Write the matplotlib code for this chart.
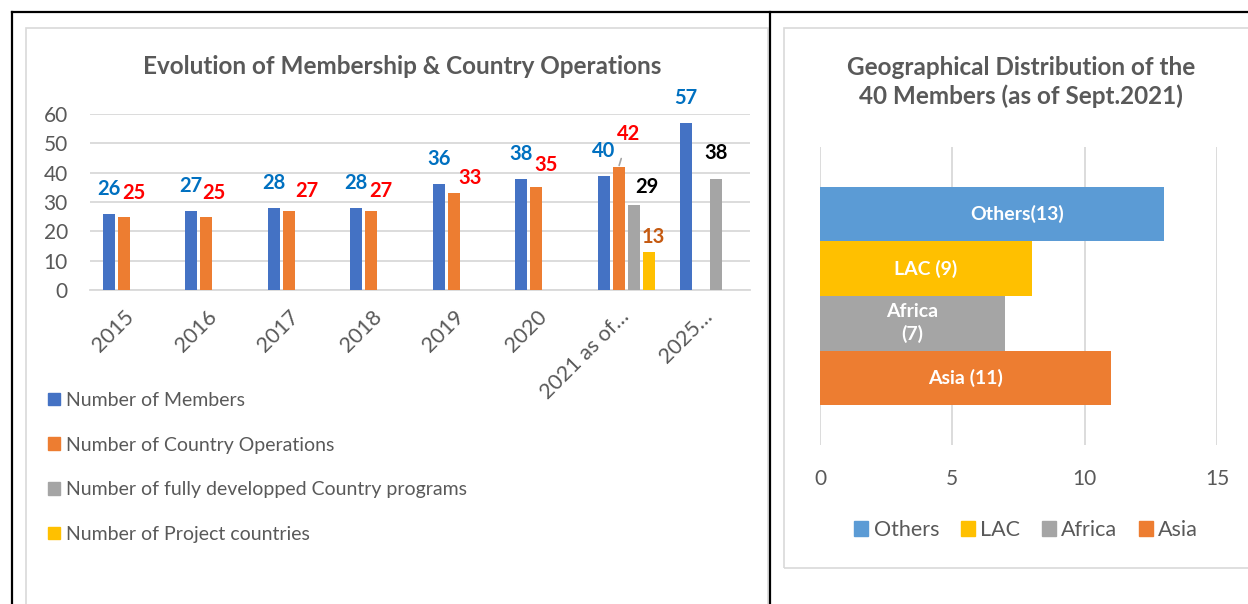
import numpy as np
import matplotlib
matplotlib.use("Agg")
import matplotlib.pyplot as plt
from matplotlib.patches import Patch, Rectangle
from matplotlib.lines import Line2D

plt.rcParams['font.family'] = ['Lato', 'DejaVu Sans']

# ---- data: left chart ----
years = ["2015", "2016", "2017", "2018", "2019", "2020", "2021 as of\u2026", "2025\u2026"]
members = [26, 27, 28, 28, 36, 38, 39, 57]
members_txt = ["26", "27", "28", "28", "36", "38", "40", "57"]
operations = [25, 25, 27, 27, 33, 35, 42, np.nan]
programs = [np.nan, np.nan, np.nan, np.nan, np.nan, np.nan, 29, 38]
projects = [np.nan, np.nan, np.nan, np.nan, np.nan, np.nan, 13, np.nan]
series_names = ["Number of Members", "Number of Country Operations",
                "Number of fully developped Country programs", "Number of Project countries"]

# ---- data: right chart ----
regions = ["Asia", "Africa", "LAC", "Others"]
region_vals = [11, 7, 8, 13]
region_txt = ["Asia (11)", "Africa\n(7)", "LAC (9)", "Others(13)"]

W, H = 1248, 604
GRAY_TXT = "#595959"
GRID = "#D9D9D9"
C_BLUE, C_ORANGE, C_GRAY, C_YELLOW = "#4472C4", "#ED7D31", "#A5A5A5", "#FFC000"


def fx(px):
    return px / W


def fy(py):
    return 1 - py / H


fig = plt.figure(figsize=(W / 100, H / 100), dpi=100)

# table borders and chart frames
for x0, y0, x1, y1 in [(12, 12, 1248, 12), (12, 12, 12, 604), (770, 12, 770, 604)]:
    fig.add_artist(Line2D([fx(x0), fx(x1)], [fy(y0), fy(y1)], color="black", lw=1.6))
fig.add_artist(Rectangle((fx(26), fy(610)), fx(742), 582 / H, fill=False, ec=GRID, lw=1.2))
fig.add_artist(Rectangle((fx(784), fy(568)), fx(470), 540 / H, fill=False, ec=GRID, lw=1.2))

# ---------------- left chart ----------------
ax1 = fig.add_axes([fx(90), fy(290), fx(660), 176 / H])
x = np.arange(len(years))
slot, bw = 0.182, 0.148
cols = [C_BLUE, C_ORANGE, C_GRAY, C_YELLOW]
series = [members, operations, programs, projects]
for k, (vals, c) in enumerate(zip(series, cols)):
    ax1.bar(x + (k - 1.5) * slot, vals, bw, color=c, zorder=3)

ax1.set_xlim(-0.5, 7.5)
ax1.set_ylim(0, 60)
ax1.set_yticks(range(0, 61, 10))
ax1.yaxis.grid(True, color=GRID, lw=1.3)
ax1.set_axisbelow(True)
for s in ["top", "right", "left"]:
    ax1.spines[s].set_visible(False)
ax1.spines["bottom"].set_color(GRID)
ax1.spines["bottom"].set_linewidth(1.3)
ax1.tick_params(axis="both", length=0, labelsize=15, labelcolor=GRAY_TXT)
ax1.tick_params(axis="x", labelsize=15.5)
ax1.tick_params(axis="y", pad=16)
ax1.tick_params(axis="x", pad=17)
ax1.set_xticks(x)
ax1.set_xticklabels(years, rotation=45, ha="right", va="center", rotation_mode="anchor")

lab_kw = dict(textcoords="offset pixels", ha="center", va="center",
              fontsize=14.5, fontweight="bold", annotation_clip=False)
# member labels
for i, v in enumerate(members):
    ax1.annotate(members_txt[i], (x[i] - 1.5 * slot, v), xytext=(0, 25),
                 color="#0070C0", **lab_kw)
op_off = [(10, 24), (8, 24), (18, 20), (10, 20), (16, 15), (10, 22), (10, 33)]
for i, v in enumerate(operations):
    if np.isnan(v):
        continue
    extra = {}
    if i == 6:
        extra = dict(arrowprops=dict(arrowstyle="-", color=C_GRAY, lw=1.2,
                                     shrinkA=9, shrinkB=1))
    ax1.annotate(f"{v:.0f}", (x[i] - 0.5 * slot, v), xytext=op_off[i],
                 color="#FF0000", **lab_kw, **extra)
prog_off = {6: (13, 18), 7: (0, 26)}
for i, v in enumerate(programs):
    if not np.isnan(v):
        ax1.annotate(f"{v:.0f}", (x[i] + 0.5 * slot, v), xytext=prog_off[i],
                     color="black", **lab_kw)
for i, v in enumerate(projects):
    if not np.isnan(v):
        ax1.annotate(f"{v:.0f}", (x[i] + 1.5 * slot, v), xytext=(5, 15),
                     color="#C55A11", **lab_kw)

fig.text(fx(402), fy(66), "Evolution of Membership & Country Operations",
         ha="center", va="center", fontsize=17.5, fontweight="bold", color=GRAY_TXT)

h1 = [Patch(color=c) for c in cols]
fig.legend(h1, series_names, loc="upper left", bbox_to_anchor=(fx(48), fy(392)),
           frameon=False, fontsize=14, labelcolor=GRAY_TXT, borderpad=0,
           borderaxespad=0, labelspacing=1.42, handlelength=0.62, handleheight=0.62,
           handletextpad=0.3)

# ---------------- right chart ----------------
ax2 = fig.add_axes([fx(820), fy(445), fx(397), 298 / H])
rcols = [C_ORANGE, C_GRAY, C_YELLOW, "#5B9BD5"]
yy = np.arange(len(regions))
ax2.barh(yy, region_vals, 1.0, color=rcols, zorder=3)
gap = 1.46
ax2.set_ylim(-0.5 - gap / 2, 3.5 + gap / 2)
ax2.set_xlim(0, 15)
ax2.set_xticks([0, 5, 10, 15])
ax2.set_yticks([])
ax2.xaxis.grid(True, color=GRID, lw=1.3)
ax2.set_axisbelow(True)
for s in ax2.spines.values():
    s.set_visible(False)
ax2.tick_params(axis="x", length=0, labelsize=15, labelcolor=GRAY_TXT, pad=17)
r_off = [0, 0, 0, 25]
for i, v in enumerate(region_vals):
    ax2.annotate(region_txt[i], (v / 2, yy[i]), xytext=(r_off[i], 0),
                 textcoords="offset pixels", ha="center", va="center",
                 fontsize=14, fontweight="bold", color="white", linespacing=1.3, zorder=4)

fig.text(fx(1021), fy(82), "Geographical Distribution of the\n40 Members (as of Sept.2021)",
         ha="center", va="center", fontsize=17.5, fontweight="bold", color=GRAY_TXT,
         linespacing=1.25)

h2 = [Patch(color=c) for c in rcols[::-1]]
fig.legend(h2, regions[::-1], loc="center", bbox_to_anchor=(fx(1026), fy(530)),
           ncol=4, frameon=False, fontsize=15.5, labelcolor=GRAY_TXT, borderpad=0,
           borderaxespad=0, handlelength=0.65, handleheight=0.65, handletextpad=0.25,
           columnspacing=1.0)

fig.savefig("out.png", dpi=100)
